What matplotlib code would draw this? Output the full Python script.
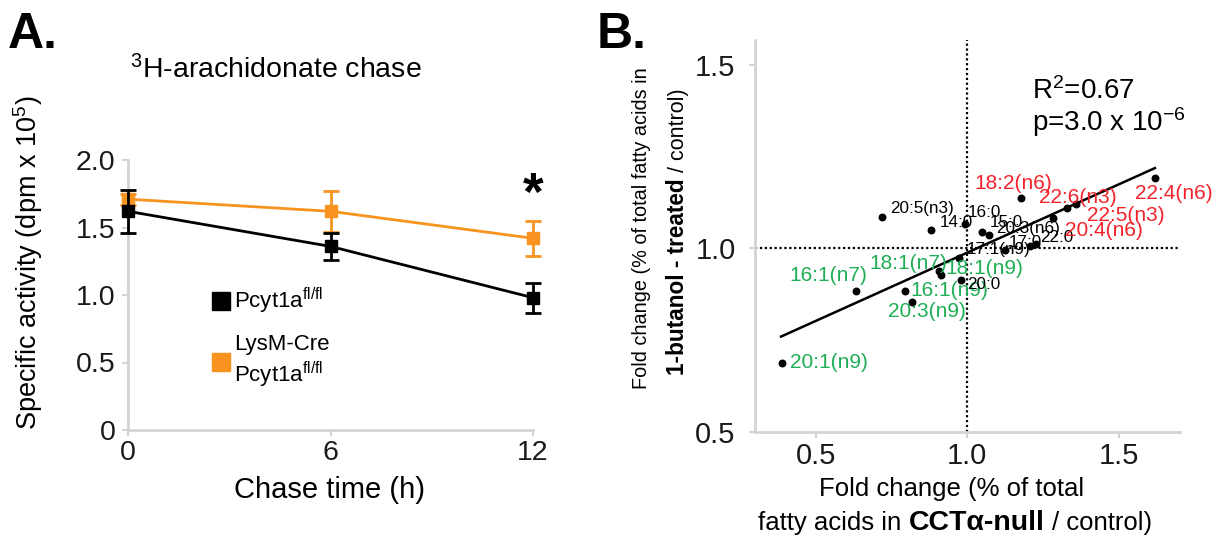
import matplotlib
matplotlib.use('Agg')
import matplotlib.pyplot as plt
from matplotlib.lines import Line2D

plt.rcParams['font.family'] = ['Liberation Sans', 'DejaVu Sans']
plt.rcParams['mathtext.fontset'] = 'custom'
plt.rcParams['mathtext.rm'] = 'Liberation Sans'
plt.rcParams['mathtext.it'] = 'Liberation Sans:italic'
plt.rcParams['mathtext.bf'] = 'Liberation Sans:bold'

# ---------------- data: panel A ----------------
chase_time = [0, 6, 12]
ctrl_mean = [1.62, 1.36, 0.98]
ctrl_err = [0.16, 0.10, 0.11]
ko_mean = [1.71, 1.62, 1.42]
ko_err = [0.04, 0.15, 0.13]
a_xticks = [0, 6, 12]
a_yticks = [0, 0.5, 1.0, 1.5, 2.0]

# ---------------- data: panel B ----------------
fa_names = ['20:1(n9)', '16:1(n7)', '16:1(n9)', '20:3(n9)', '18:1(n7)', '18:1(n9)',
            '20:0', '17:1(n9)', '20:5(n3)', '14:0', '16:0', '15:0', '20:3(n6)',
            '', '17:0', '22:0', '18:2(n6)', '22:6(n3)', '22:5(n3)', '20:4(n6)', '22:4(n6)']
fa_cct = [0.389, 0.634, 0.795, 0.818, 0.908, 0.914,
          0.980, 0.974, 0.719, 0.881, 0.993, 1.050, 1.073,
          1.125, 1.208, 1.228, 1.178, 1.360, 1.330, 1.284, 1.620]
fa_butanol = [0.689, 0.885, 0.885, 0.855, 0.940, 0.929,
              0.913, 0.975, 1.087, 1.049, 1.068, 1.044, 1.038,
              0.995, 1.008, 1.011, 1.137, 1.120, 1.109, 1.082, 1.191]
fa_group = ['mono', 'mono', 'mono', 'mono', 'mono', 'mono',
            'other', 'other', 'other', 'other', 'other', 'other', 'other',
            'other', 'other', 'other', 'pufa', 'pufa', 'pufa', 'pufa', 'pufa']
fit_x = [0.386, 1.62]
fit_y = [0.760, 1.219]
b_xticks = [0.5, 1.0, 1.5]
b_yticks = [0.5, 1.0, 1.5]
r2_text = 'R$^{\\mathregular{2}}$=0.67'
p_text = 'p=3.0 x 10$^{\\mathregular{-6}}$'

# ---------------- layout / style ----------------
W, H = 1221, 537
fig = plt.figure(figsize=(W / 100, H / 100), dpi=100)
GRAY = '#d4d4d4'
ORANGE = '#f7931e'
GREEN = '#1fae55'
RED = '#f4232b'
grp_color = {'mono': GREEN, 'other': 'black', 'pufa': RED}
grp_size = {'mono': 15, 'other': 12.3, 'pufa': 15}


def fx(px):
    return px / W


def fy(py):
    return 1 - py / H


# label placement (pixels offset, ha)
lab_off = [(8, 0, 'left'), (-28, 15, 'center'), (5, 0, 'left'), (15, -10, 'center'),
           (-31, 7, 'center'), (4, 6, 'left'), (6, -4, 'left'), (8, 8, 'left'),
           (8, 8, 'left'), (9, 8, 'left'), (3, 11, 'left'), (8, 10, 'left'),
           (7, 6, 'left'), (0, 0, 'left'), (-5, 3, 'center'), (4, 7, 'left'),
           (-8, 15, 'center'), (2, 7, 'center'), (20, -7, 'left'), (12, -12, 'left'),
           (19, -15, 'center')]

# ---------------- panel A ----------------
axA = fig.add_axes([fx(128), fy(430), (533 - 128) / W, (430 - 160) / H])
axA.errorbar(chase_time, ko_mean, yerr=ko_err, color=ORANGE, marker='s', ms=8,
             lw=2, elinewidth=2, capsize=6, capthick=2, clip_on=False, zorder=3)
axA.errorbar(chase_time, ctrl_mean, yerr=ctrl_err, color='black', marker='s', ms=8,
             lw=2, elinewidth=2, capsize=6, capthick=2, clip_on=False, zorder=4)
axA.set_xlim(0, 12)
axA.set_ylim(0, 2.0)
axA.set_xticks(a_xticks)
axA.set_yticks(a_yticks)
axA.set_xticklabels([str(v) for v in a_xticks])
axA.set_yticklabels(['0' if v == 0 else f'{v:.1f}' for v in a_yticks])
for s in ['top', 'right']:
    axA.spines[s].set_visible(False)
for s in ['left', 'bottom']:
    axA.spines[s].set_color(GRAY)
    axA.spines[s].set_linewidth(2)
axA.tick_params(axis='both', colors=GRAY, labelcolor='#1a1a1a', labelsize=20.5, length=4, width=1.5)
axA.tick_params(axis='y', pad=5)
axA.tick_params(axis='x', pad=3)
axA.text(12, 1.73, '*', ha='center', va='center', fontsize=38, weight='bold')

handles = [Line2D([], [], ls='none', marker='s', ms=13, color='black'),
           Line2D([], [], ls='none', marker='s', ms=13, color=ORANGE)]
fig.legend(handles, ['Pcyt1a$^{\\mathregular{fl/fl}}$', 'LysM-Cre\nPcyt1a$^{\\mathregular{fl/fl}}$'],
           loc='upper left', bbox_to_anchor=(fx(213), fy(286)), frameon=False,
           fontsize=16, handlelength=0.7, handletextpad=0.25, borderpad=0,
           borderaxespad=0, labelspacing=0.8)

fig.text(fx(28), fy(263), 'Specific activity (dpm x 10$^{\\mathregular{5}}$)', rotation=90,
         ha='center', va='center', fontsize=19.5)
fig.text(fx(330), fy(490), 'Chase time (h)', ha='center', va='center', fontsize=21)
fig.text(fx(130), fy(70), '$^{\\mathregular{3}}$H-arachidonate chase', ha='left', va='center', fontsize=20.5)
fig.text(fx(8), fy(12), 'A.', ha='left', va='top', fontsize=36, weight='bold')
fig.text(fx(597), fy(12), 'B.', ha='left', va='top', fontsize=36, weight='bold')

# ---------------- panel B ----------------
axB = fig.add_axes([fx(755), fy(432), (1180 - 755) / W, (432 - 40) / H])
axB.set_xlim(0.300, 1.703)
axB.set_ylim(0.5, 1.568)
axB.axvline(1.0, color='black', lw=1.6, ls=(0, (1, 1.2)), zorder=1)
axB.axhline(1.0, color='black', lw=1.6, ls=(0, (1, 1.2)), zorder=1)
axB.plot(fit_x, fit_y, color='black', lw=1.8, zorder=2)
axB.scatter(fa_cct, fa_butanol, s=22, color='black', zorder=3)
for i, name in enumerate(fa_names):
    if not name:
        continue
    dx, dy, ha = lab_off[i]
    g = fa_group[i]
    axB.annotate(name, (fa_cct[i], fa_butanol[i]), xytext=(dx, dy), textcoords='offset pixels',
                 ha=ha, va='center', color=grp_color[g], fontsize=grp_size[g], zorder=4)
axB.set_xticks(b_xticks)
axB.set_yticks(b_yticks)
axB.set_xticklabels([f'{v:.1f}' for v in b_xticks])
axB.set_yticklabels([f'{v:.1f}' for v in b_yticks])
for s in ['top', 'right']:
    axB.spines[s].set_visible(False)
for s in ['left', 'bottom']:
    axB.spines[s].set_color(GRAY)
    axB.spines[s].set_linewidth(2)
axB.tick_params(axis='both', colors=GRAY, labelcolor='#1a1a1a', labelsize=21, length=4, width=1.5)
axB.tick_params(axis='y', pad=10)
axB.tick_params(axis='x', pad=3)
fig.text(fx(1032), fy(99), r2_text, ha='left', va='baseline', fontsize=20)
fig.text(fx(1032), fy(131), p_text, ha='left', va='baseline', fontsize=20)


def seg_text(segs, x, y, rotation=0):
    """segs: list of (text, size, weight, gap_before_em). x,y: pixel (center along run, baseline)"""
    ts = []
    for s, size, weight, gap in segs:
        t = fig.text(0, 0, s, fontsize=size, weight=weight, rotation=rotation,
                     rotation_mode='anchor', ha='left', va='baseline')
        ts.append(t)
    fig.canvas.draw()
    r = fig.canvas.get_renderer()
    lens = []
    gaps = []
    for t, (s, size, weight, gap) in zip(ts, segs):
        bb = t.get_window_extent(r)
        lens.append(bb.height if rotation == 90 else bb.width)
        gaps.append(gap * size * 100 / 72)
    total = sum(lens) + sum(gaps)
    if rotation == 90:
        pos = (H - y) - total / 2
        for t, L, g in zip(ts, lens, gaps):
            pos += g
            t.set_position((fx(x), pos / H))
            pos += L
    else:
        pos = x - total / 2
        for t, L, g in zip(ts, lens, gaps):
            pos += g
            t.set_position((fx(pos), fy(y)))
            pos += L


seg_text([('Fold change (% of total', 18.5, 'normal', 0)], 952, 496)
seg_text([('fatty acids in', 18.5, 'normal', 0), ('CCT\u03b1-null', 20.5, 'bold', 0.28),
          ('/ control)', 18.5, 'normal', 0.28)], 955, 530)
seg_text([('Fold change (% of total fatty acids in', 14.3, 'normal', 0)], 647, 228, rotation=90)
seg_text([('1-butanol - treated', 16.3, 'bold', 0), ('/ control)', 15.5, 'normal', 0.28)],
         684, 232, rotation=90)

fig.savefig('out.png', dpi=100)
